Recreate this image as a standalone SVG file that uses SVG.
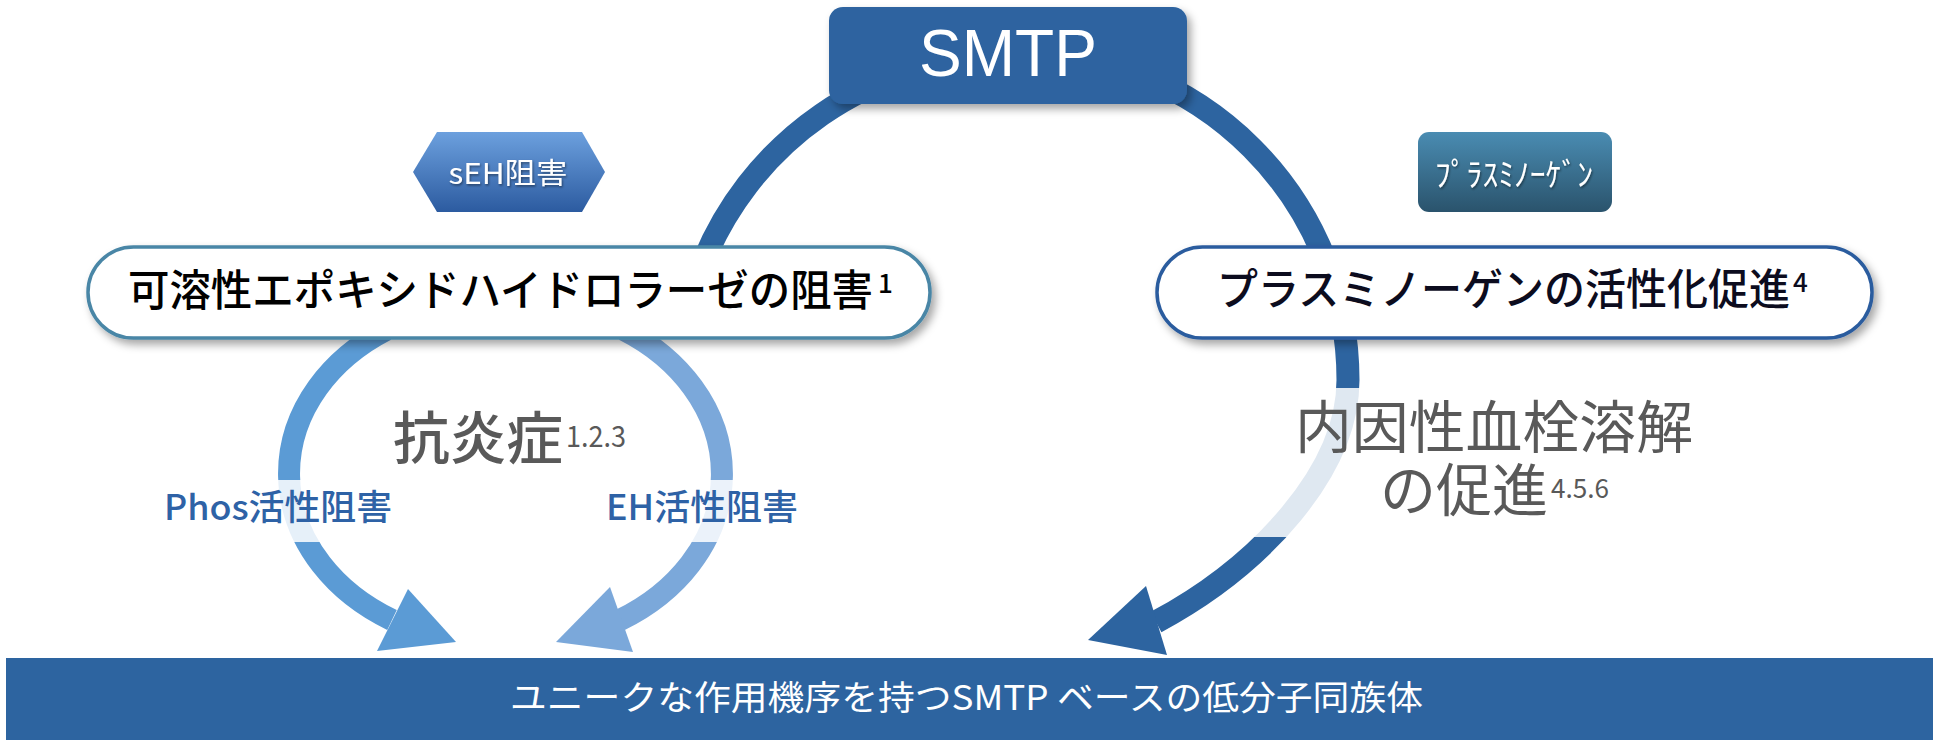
<svg xmlns="http://www.w3.org/2000/svg" width="1939" height="740" viewBox="0 0 1939 740">
<style>
.jp{font-family:"Noto Sans CJK JP","Noto Sans",sans-serif;}
.lat{font-family:"Liberation Sans","Noto Sans",sans-serif;}
.gray{fill:#595959;}
.lbl{fill:#2E62A6;}
.band{fill:#ffffff;fill-opacity:0.85;}
</style>
<defs>
<filter id="sh" x="-10%" y="-20%" width="130%" height="150%">
<feDropShadow dx="4" dy="5" stdDeviation="4" flood-color="#000" flood-opacity="0.35"/>
</filter>
<filter id="tsh" x="-10%" y="-20%" width="130%" height="150%">
<feDropShadow dx="1" dy="1.5" stdDeviation="1" flood-color="#000" flood-opacity="0.45"/>
</filter>
<linearGradient id="gHex" x1="0" y1="0" x2="0" y2="1">
<stop offset="0" stop-color="#6CA0DE"/>
<stop offset="1" stop-color="#2C5BA0"/>
</linearGradient>
<linearGradient id="gPla" x1="0" y1="0" x2="0" y2="1">
<stop offset="0" stop-color="#4A8CB2"/>
<stop offset="1" stop-color="#2A536C"/>
</linearGradient>
</defs>

<g id="connectors">
<path d="M 700 270 A 331 331 0 0 1 1010 56 L 1020 52 A 328 328 0 0 1 1348 380 C 1348 470 1262 565 1156 622" fill="none" stroke="#2D64A0" stroke-width="23"/>
<polygon points="1146,586 1167,655 1088,640" fill="#2D64A0"/>
<path d="M 386 330 A 209 170 0 0 0 392 620" fill="none" stroke="#5B9BD5" stroke-width="22"/>
<polygon points="408,589 377,651 456,642" fill="#5B9BD5"/>
<path d="M 624 330 A 209 170 0 0 1 620 620" fill="none" stroke="#7BA8DA" stroke-width="22"/>
<polygon points="610,587 633,652 556,642" fill="#7BA8DA"/>
</g>

<g id="smtp">
<rect x="829" y="7" width="358" height="97" rx="14" fill="#2D64A0" filter="url(#sh)"/>
<text x="1008" y="76" class="lat" font-size="67" fill="#fff" text-anchor="middle" textLength="178" lengthAdjust="spacingAndGlyphs">SMTP</text>
</g>

<g id="seh">
<polygon points="413,172 437,132 582,132 605,172 582,212 437,212" fill="url(#gHex)"/>
<text x="508" y="184" class="jp" font-size="29" fill="#fff" text-anchor="middle" textLength="119" lengthAdjust="spacingAndGlyphs" filter="url(#tsh)">sEH阻害</text>
</g>

<g id="plasminogen-tag">
<rect x="1418" y="132" width="194" height="80" rx="11" fill="url(#gPla)"/>
<text x="1514" y="186" class="jp" font-size="32" fill="#fff" text-anchor="middle" textLength="158" lengthAdjust="spacingAndGlyphs" filter="url(#tsh)">ﾌﾟﾗｽﾐﾉｰｹﾞﾝ</text>
</g>

<g id="seh-pill">
<rect x="88" y="247" width="842" height="91" rx="45.5" fill="#fff" stroke="#4A86A6" stroke-width="3.5" filter="url(#sh)"/>
<text x="128" y="306" class="jp" font-size="43" font-weight="500" fill="#000" textLength="745" lengthAdjust="spacingAndGlyphs">可溶性エポキシドハイドロラーゼの阻害</text>
<text x="878" y="293" class="jp" font-size="26" font-weight="500" fill="#000">1</text>
</g>

<g id="plasminogen-pill">
<rect x="1157" y="247" width="715" height="91" rx="45.5" fill="#fff" stroke="#2C5C9E" stroke-width="3.5" filter="url(#sh)"/>
<text x="1217" y="305" class="jp" font-size="43" font-weight="500" fill="#0C0C1E" textLength="573" lengthAdjust="spacingAndGlyphs">プラスミノーゲンの活性化促進</text>
<text x="1793" y="292" class="jp" font-size="26" font-weight="500" fill="#0C0C1E">4</text>
</g>

<g id="antiinflammation">
<text x="393" y="459" class="jp gray" font-size="57" font-weight="500" textLength="170" lengthAdjust="spacingAndGlyphs">抗炎症</text>
<text x="566" y="447" class="jp gray" font-size="29" textLength="60" lengthAdjust="spacingAndGlyphs">1.2.3</text>
</g>

<g id="phos-label">
<rect x="158" y="480" width="240" height="62" class="band"/>
<text x="278" y="520" class="jp lbl" font-size="35" font-weight="500" text-anchor="middle" textLength="228" lengthAdjust="spacingAndGlyphs">Phos活性阻害</text>
</g>

<g id="eh-label">
<rect x="598" y="480" width="208" height="62" class="band"/>
<text x="702" y="520" class="jp lbl" font-size="35" font-weight="500" text-anchor="middle" textLength="192" lengthAdjust="spacingAndGlyphs">EH活性阻害</text>
</g>

<g id="thrombolysis">
<rect x="1250" y="388" width="490" height="149" class="band"/>
<text x="1295" y="448" class="jp gray" font-size="57" textLength="398" lengthAdjust="spacingAndGlyphs">内因性血栓溶解</text>
<text x="1380" y="511" class="jp gray" font-size="57" textLength="168" lengthAdjust="spacingAndGlyphs">の促進</text>
<text x="1551" y="498" class="jp gray" font-size="27" textLength="58" lengthAdjust="spacingAndGlyphs">4.5.6</text>
</g>

<g id="bottom-bar">
<rect x="6" y="658" width="1927" height="82" fill="#2D64A0"/>
<text x="510" y="710" class="jp" font-size="34" fill="#fff" textLength="913" lengthAdjust="spacingAndGlyphs">ユニークな作用機序を持つSMTP ベースの低分子同族体</text>
</g>
</svg>
